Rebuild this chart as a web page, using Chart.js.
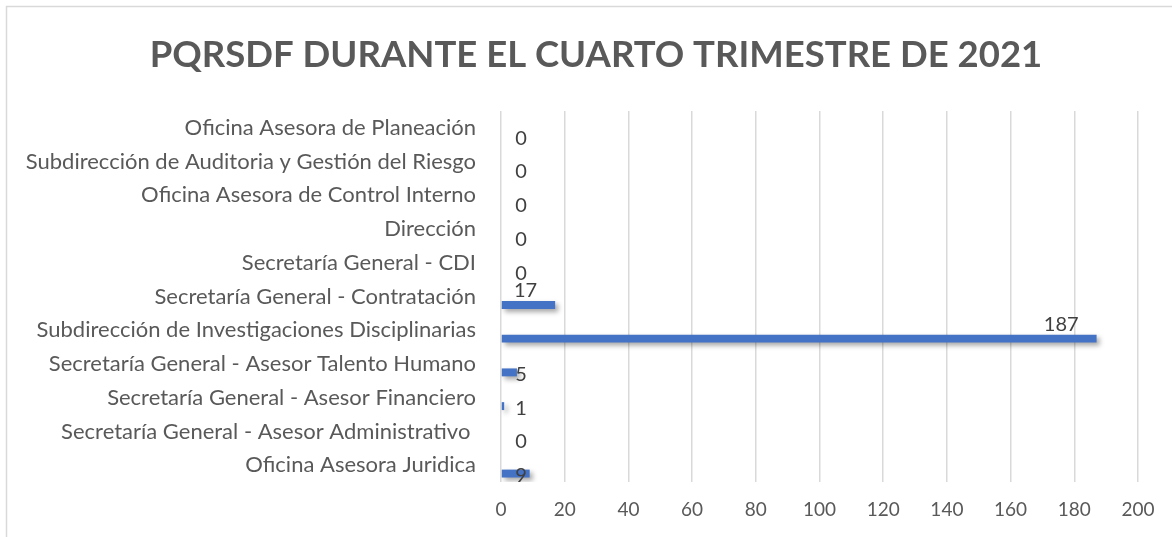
<!DOCTYPE html>
<html>
<head>
<meta charset="utf-8">
<script src="https://cdn.jsdelivr.net/npm/chart.js@4"></script>
<style>
  html, body { margin: 0; padding: 0; background: #ffffff; }
  #wrap { position: relative; width: 1172px; height: 537px; }
</style>
</head>
<body>
<div id="wrap"><canvas id="chart"></canvas></div>
<script>
// ---------------- DATA ----------------
const dependencias = [
    "Oficina Asesora de Planeación",
    "Subdirección de Auditoria y Gestión del Riesgo",
    "Oficina Asesora de Control Interno",
    "Dirección",
    "Secretaría General - CDI",
    "Secretaría General - Contratación",
    "Subdirección de Investigaciones Disciplinarias",
    "Secretaría General - Asesor Talento Humano",
    "Secretaría General - Asesor Financiero",
    "Secretaría General - Asesor Administrativo ",
    "Oficina Asesora Juridica"
];
const pqrsdf = [0, 0, 0, 0, 0, 17, 187, 5, 1, 0, 9];
const ejeX = { min: 0, max: 200, paso: 20 };
const titulo = "PQRSDF DURANTE EL CUARTO TRIMESTRE DE 2021";

const gris = "#595959";
const fuente = "Lato, 'Open Sans', sans-serif";

// ---------------- PLUGINS ----------------
// marco del grafico (solo borde superior e izquierdo quedan visibles) + titulo
const marco = {
    id: "marco",
    beforeDraw(chart) {
        const ctx = chart.ctx;
        ctx.save();
        ctx.strokeStyle = "#d9d9d9";
        ctx.lineWidth = 1.5;
        ctx.beginPath();
        ctx.moveTo(6.5, chart.height);
        ctx.lineTo(6.5, 6.5);
        ctx.lineTo(chart.width, 6.5);
        ctx.stroke();

        ctx.font = "bold 36.5px " + fuente;
        ctx.fillStyle = gris;
        ctx.textAlign = "center";
        ctx.textBaseline = "middle";
        ctx.fillText(titulo, chart.width / 2 + 10, 55);
        ctx.restore();
    }
};

// sombra de las barras
const sombra = {
    id: "sombra",
    beforeDatasetsDraw(chart) {
        const ctx = chart.ctx;
        ctx.save();
        ctx.shadowColor = "rgba(0,0,0,0.35)";
        ctx.shadowBlur = 5;
        ctx.shadowOffsetX = 3;
        ctx.shadowOffsetY = 3;
    },
    afterDatasetsDraw(chart) {
        chart.ctx.restore();
    }
};

// etiquetas de datos
const etiquetas = {
    id: "etiquetas",
    afterDatasetsDraw(chart) {
        const ctx = chart.ctx;
        const meta = chart.getDatasetMeta(1);
        const x0 = chart.scales.x.getPixelForValue(0);
        ctx.save();
        ctx.font = "20px " + fuente;
        ctx.fillStyle = "#404040";
        ctx.textBaseline = "middle";
        meta.data.forEach((bar, i) => {
            const v = pqrsdf[i];
            if (v >= 10) {
                ctx.textAlign = "right";
                ctx.fillText(String(v), bar.x - 18, bar.y - 14);
            } else {
                ctx.textAlign = "center";
                ctx.fillText(String(v), x0 + 20, bar.y + 2);
            }
        });
        ctx.restore();
    }
};

// ---------------- CHART ----------------
new Chart(document.getElementById("chart"), {
    type: "bar",
    data: {
        labels: dependencias,
        datasets: [
            { label: "", data: [], backgroundColor: "rgba(0,0,0,0)" },
            {
                label: "PQRSDF",
                data: pqrsdf,
                backgroundColor: "#4472c4"
            }
        ]
    },
    options: {
        indexAxis: "y",
        responsive: true,
        maintainAspectRatio: false,
        animation: false,
        datasets: { bar: { categoryPercentage: 1, barPercentage: 0.47 } },
        layout: { padding: { left: 0, right: 34, top: 111, bottom: 0 } },
        plugins: {
            legend: { display: false },
            tooltip: { enabled: false },
            title: { display: false }
        },
        scales: {
            x: {
                min: ejeX.min,
                max: ejeX.max,
                afterFit(scale) { scale.height = 55; },
                ticks: {
                    stepSize: ejeX.paso,
                    color: gris,
                    padding: 16,
                    font: { family: fuente, size: 19 }
                },
                grid: { color: "#d9d9d9", lineWidth: 1.5, drawTicks: false },
                border: { display: false }
            },
            y: {
                afterFit(scale) { scale.width = 501; },
                ticks: {
                    color: gris,
                    padding: 25,
                    autoSkip: false,
                    font: { family: fuente, size: 22 }
                },
                grid: { display: false, drawTicks: false },
                border: { display: false }
            }
        }
    },
    plugins: [marco, sombra, etiquetas]
});
</script>
</body>
</html>
